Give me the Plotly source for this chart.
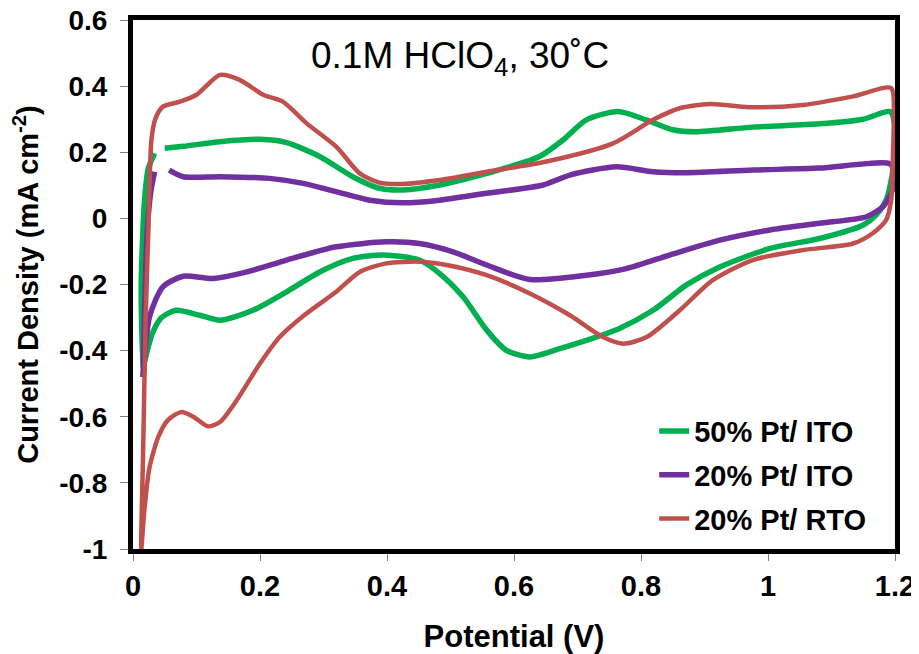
import plotly.graph_objects as go

# 50% Pt/ ITO  (cyclic voltammogram, traced from the anodic restart point)
g_x = [0.050, 0.080, 0.137, 0.200, 0.242, 0.294, 0.346, 0.388, 0.425, 0.483, 0.557, 0.640, 0.677, 0.714,
       0.764, 0.808, 0.850, 0.887, 0.976, 1.081, 1.150, 1.192, 1.199, 1.197, 1.186, 1.170, 1.150, 1.081,
       1.003, 0.924, 0.871, 0.819, 0.766, 0.714, 0.672, 0.625, 0.588, 0.557, 0.520, 0.483, 0.451, 0.394,
       0.346, 0.294, 0.242, 0.189, 0.137, 0.105, 0.068, 0.045, 0.030, 0.020, 0.016,
       0.014, 0.013, 0.018, 0.024, 0.034]
g_y = [0.212, 0.218, 0.232, 0.239, 0.229, 0.187, 0.126, 0.091, 0.086, 0.101, 0.136, 0.187, 0.237, 0.298,
       0.323, 0.298, 0.268, 0.262, 0.276, 0.286, 0.300, 0.323, 0.290, 0.150, 0.055, 0.010, -0.020, -0.061,
       -0.091, -0.147, -0.202, -0.278, -0.333, -0.369, -0.394, -0.419, -0.399, -0.338, -0.238, -0.167, -0.126, -0.111,
       -0.121, -0.162, -0.222, -0.278, -0.308, -0.293, -0.278, -0.300, -0.350, -0.420, -0.450,
       -0.350, -0.190, 0.050, 0.150, 0.197]
G_TAIL = 5  # last points form the short rising segment before the break

# 20% Pt/ ITO
p_x = [0.057, 0.079, 0.137, 0.215, 0.268, 0.320, 0.373, 0.425, 0.483, 0.557, 0.646, 0.688, 0.761, 0.819,
       0.871, 0.976, 1.081, 1.192, 1.199, 1.198, 1.190, 1.181, 1.155, 1.081, 1.003, 0.924, 0.845, 0.777,
       0.714, 0.625, 0.557, 0.504, 0.451, 0.399, 0.320, 0.242, 0.179, 0.126, 0.079, 0.047, 0.026, 0.016,
       0.018, 0.022, 0.028, 0.034]
p_y = [0.146, 0.126, 0.126, 0.121, 0.106, 0.081, 0.055, 0.047, 0.055, 0.076, 0.101, 0.131, 0.156, 0.141,
       0.138, 0.146, 0.152, 0.165, 0.140, 0.100, 0.060, 0.035, 0.005, -0.015, -0.035, -0.066, -0.111, -0.152,
       -0.172, -0.185, -0.141, -0.101, -0.076, -0.071, -0.086, -0.126, -0.162, -0.182, -0.175, -0.207, -0.298, -0.480,
       -0.300, -0.050, 0.080, 0.141]
P_TAIL = 4

# 20% Pt/ RTO
r_x = [0.013, 0.016, 0.020, 0.024, 0.029, 0.035, 0.047, 0.074, 0.100, 0.137, 0.168, 0.205, 0.236, 0.273,
       0.320, 0.357, 0.388, 0.425, 0.483, 0.557, 0.651, 0.756, 0.819, 0.861, 0.908, 0.976, 1.055, 1.134,
       1.194, 1.198, 1.196, 1.194, 1.186, 1.165, 1.134, 1.055, 0.976, 0.913, 0.861, 0.809, 0.772, 0.740,
       0.688, 0.625, 0.557, 0.494, 0.451, 0.399, 0.357, 0.320, 0.273, 0.231, 0.200, 0.163, 0.137, 0.118,
       0.095, 0.076, 0.055, 0.040, 0.026, 0.018, 0.013]
r_y = [-1.000, -0.700, -0.300, -0.045, 0.237, 0.300, 0.338, 0.353, 0.374, 0.434, 0.419, 0.374, 0.353, 0.288,
       0.217, 0.136, 0.108, 0.104, 0.116, 0.141, 0.172, 0.227, 0.298, 0.333, 0.346, 0.336, 0.343, 0.369,
       0.394, 0.300, 0.150, 0.055, -0.005, -0.045, -0.076, -0.096, -0.126, -0.187, -0.278, -0.359, -0.379, -0.359,
       -0.293, -0.227, -0.172, -0.141, -0.131, -0.136, -0.162, -0.222, -0.288, -0.359, -0.439, -0.551, -0.616, -0.629,
       -0.600, -0.586, -0.610, -0.660, -0.753, -0.880, -1.000]

series_names = ["50% Pt/ ITO", "20% Pt/ ITO", "20% Pt/ RTO"]
colors = ["#00B050", "#7030A0", "#C0504D"]
widths = [5.5, 5.5, 4.5]

x_ticks = [0, 0.2, 0.4, 0.6, 0.8, 1, 1.2]
x_labels = ["0", "0.2", "0.4", "0.6", "0.8", "1", "1.2"]
y_ticks = [-1, -0.8, -0.6, -0.4, -0.2, 0, 0.2, 0.4, 0.6]
y_labels = ["-1", "-0.8", "-0.6", "-0.4", "-0.2", "0", "0.2", "0.4", "0.6"]

FONT = "Liberation Sans, Arial, sans-serif"


def with_gap(xs, ys, tail):
    """Draw the rising tail (starting from the loop's lowest turn) first, then a break,
    then the rest of the loop, so the two pieces share the turning point."""
    return (xs[-tail - 1:] + [None] + xs[:-tail],
            ys[-tail - 1:] + [None] + ys[:-tail])


traces = [with_gap(g_x, g_y, G_TAIL), with_gap(p_x, p_y, P_TAIL), (r_x, r_y)]

fig = go.Figure()
for i, (xs, ys) in enumerate(traces):
    fig.add_trace(go.Scatter(
        x=xs, y=ys, mode="lines", name=series_names[i], legendgroup=str(i),
        line=dict(color=colors[i], width=widths[i], shape="spline", smoothing=0.7),
        connectgaps=False,
    ))

# the page body has an 8px margin, so the figure is offset by 8px
fig.update_layout(
    width=911, height=646,
    margin=dict(l=125, r=24, t=12, b=105),
    paper_bgcolor="white", plot_bgcolor="white",
    font=dict(family=FONT, color="black"),
    showlegend=True,
    legend=dict(
        x=0.684, y=0.008, xanchor="left", yanchor="bottom",
        font=dict(family=FONT, size=29, color="black", weight="bold"),
        bgcolor="rgba(0,0,0,0)", tracegroupgap=3, itemwidth=30,
    ),
    annotations=[dict(
        text="0.1M HClO<sub>4</sub>, 30˚C", x=0.429, y=0.928, xref="paper", yref="paper",
        xanchor="center", yanchor="middle", showarrow=False,
        font=dict(family=FONT, size=37, color="black"),
    )],
)
fig.update_xaxes(
    range=[0, 1.2], tickvals=x_ticks, ticktext=x_labels, automargin=False,
    ticklabeloverflow="allow",
    showline=True, mirror=True, linecolor="black", linewidth=5,
    ticks="outside", ticklen=7, tickcolor="#808080", tickwidth=1,
    tickfont=dict(family=FONT, size=29, color="black", weight="bold"),
    ticklabelstandoff=0,
    showgrid=False, zeroline=False,
    title=dict(text="Potential (V)", font=dict(family=FONT, size=31, color="black", weight="bold"), standoff=41),
)
fig.update_yaxes(
    range=[-1, 0.6], tickvals=y_ticks, ticktext=y_labels, automargin=False,
    ticklabeloverflow="allow",
    showline=True, mirror=True, linecolor="black", linewidth=5,
    ticks="outside", ticklen=8, tickcolor="#808080", tickwidth=1,
    tickfont=dict(family=FONT, size=28, color="black", weight="bold"),
    ticklabelstandoff=7,
    showgrid=False, zeroline=False,
    title=dict(text="Current Density (mA cm<sup>-2</sup>)", font=dict(family=FONT, size=29, color="black", weight="bold"), standoff=18),
)

fig.write_html("out.html")
